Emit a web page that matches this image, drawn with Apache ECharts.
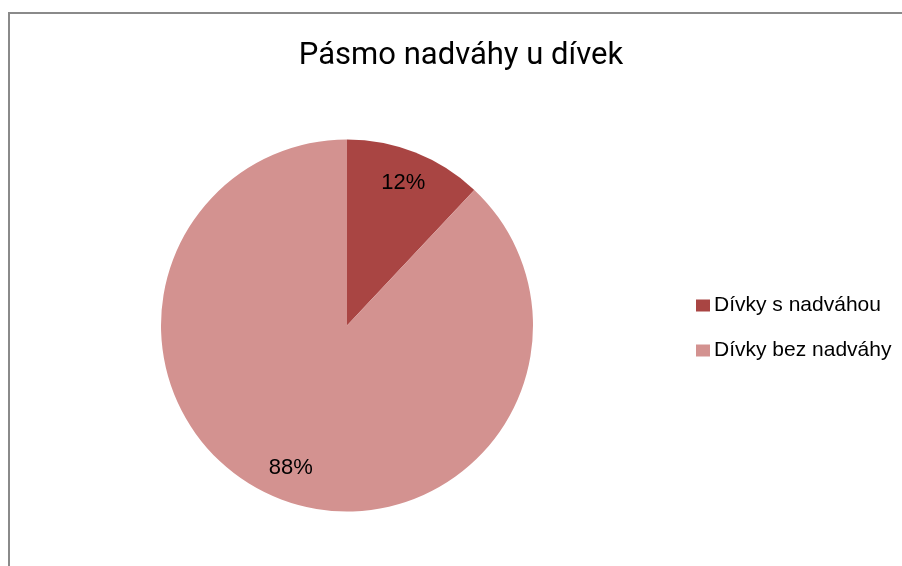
<!DOCTYPE html>
<html><head><meta charset="utf-8">
<script src="https://cdn.jsdelivr.net/npm/echarts@6/dist/echarts.min.js"></script>
<style>html,body{margin:0;padding:0;background:#fff}#c{width:902px;height:566px}
#frame{position:absolute;left:8px;top:12px;width:900px;height:600px;border-left:2px solid #8a8a8a;border-top:2px solid #8a8a8a;pointer-events:none}</style>
</head><body><div id="c"></div><div id="frame"></div>
<script>
const titleText = 'Pásmo nadváhy u dívek';
const categories = ['Dívky s nadváhou', 'Dívky bez nadváhy'];
const values = [12, 88];
const colors = ['#A94543', '#D39290'];
const FONT = '"Liberation Sans", Arial, sans-serif';
const data = categories.map((n, i) => ({ name: n, value: values[i], itemStyle: { color: colors[i] } }));
const chart = echarts.init(document.getElementById('c'));
chart.setOption({
  animation: false,
  title: { text: titleText, left: 461, top: 41, textAlign: 'center', padding: 0,
    textStyle: { fontFamily: 'Roboto, "Liberation Sans", sans-serif', fontSize: 31, fontWeight: 'normal', color: '#000' } },
  legend: { orient: 'vertical', left: 696, top: 295, padding: 0, itemWidth: 14, itemHeight: 12, itemGap: 24,
    icon: 'rect', data: categories,
    textStyle: { fontFamily: FONT, fontSize: 21, color: '#000', padding: [0,0,0,-1] } },
  series: [
    { type: 'pie', center: [347, 325.5], radius: [0, 186], startAngle: 90, clockwise: true,
      data: data, label: { show: false }, labelLine: { show: false }, silent: true },
    { type: 'pie', center: [347, 325.5], radius: [114, 186], startAngle: 90, clockwise: true,
      data: categories.map((n, i) => ({ name: n, value: values[i], itemStyle: { color: 'rgba(0,0,0,0)' } })),
      silent: true, labelLine: { show: false },
      label: { show: true, position: 'inside', formatter: '{d}%',
        fontFamily: FONT, fontSize: 22, color: '#000' } }
  ]
});
</script></body></html>
